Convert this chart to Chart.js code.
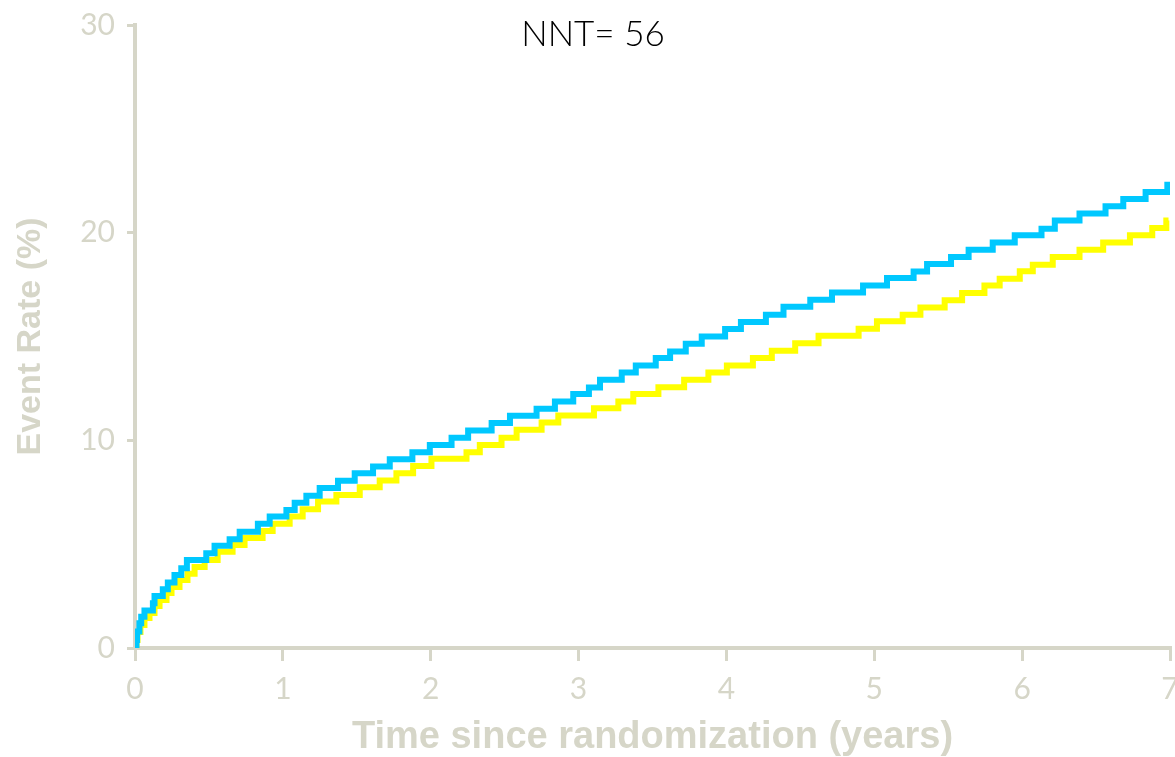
<!DOCTYPE html>
<html>
<head>
<meta charset="utf-8">
<script src="https://cdn.jsdelivr.net/npm/chart.js@4.4.1/dist/chart.umd.min.js"></script>
<style>
  html, body { margin: 0; padding: 0; background: #ffffff; }
  #wrap { width: 1175px; height: 757px; position: relative; }
</style>
</head>
<body>
<div id="wrap"><canvas id="c" width="1175" height="757"></canvas></div>
<script>
// ---- Data ----
const chartTitle = "NNT= 56";
const xAxisTitle = "Time since randomization (years)";
const yAxisTitle = "Event Rate (%)";
const xTicks = [0, 1, 2, 3, 4, 5, 6, 7];
const yTicks = [0, 10, 20, 30];

// Blue arm: step times (years) and cumulative event rate (%) after each step
const blueTimes = [0, 0.010, 0.014, 0.030, 0.042, 0.064, 0.121, 0.132, 0.188, 0.222, 0.267, 0.313, 0.351,
  0.482, 0.538, 0.640, 0.708, 0.831, 0.911, 1.024, 1.080, 1.159, 1.249, 1.373, 1.486, 1.610, 1.723,
  1.876, 1.994, 2.141, 2.253, 2.412, 2.536, 2.716, 2.840, 2.964, 3.070, 3.145, 3.292, 3.387, 3.522,
  3.619, 3.725, 3.833, 3.991, 4.098, 4.267, 4.386, 4.567, 4.714, 4.924, 5.086, 5.266, 5.357, 5.519,
  5.638, 5.801, 5.950, 6.131, 6.221, 6.388, 6.564, 6.684, 6.835, 6.982, 7.0];
const blueRates = [0, 0.39, 0.79, 1.19, 1.51, 1.80, 2.15, 2.51, 2.83, 3.15, 3.52, 3.84, 4.24,
  4.56, 4.92, 5.24, 5.60, 5.98, 6.33, 6.65, 7.00, 7.33, 7.70, 8.05, 8.42, 8.74, 9.09,
  9.43, 9.78, 10.12, 10.47, 10.83, 11.18, 11.52, 11.87, 12.23, 12.54, 12.92, 13.27, 13.60, 13.96,
  14.28, 14.65, 15.00, 15.36, 15.70, 16.05, 16.43, 16.77, 17.12, 17.46, 17.82, 18.13, 18.49, 18.83,
  19.18, 19.53, 19.87, 20.19, 20.58, 20.92, 21.27, 21.62, 21.96, 22.31, 22.31];

// Yellow arm
const yellowTimes = [0, 0.010, 0.017, 0.037, 0.064, 0.098, 0.132, 0.166, 0.213, 0.247, 0.301, 0.355,
  0.403, 0.471, 0.559, 0.660, 0.741, 0.863, 0.931, 1.046, 1.134, 1.238, 1.362, 1.520, 1.655, 1.768,
  1.881, 2.005, 2.242, 2.332, 2.479, 2.581, 2.750, 2.863, 3.104, 3.269, 3.370, 3.540, 3.714, 3.878,
  4.003, 4.179, 4.307, 4.465, 4.623, 4.894, 5.018, 5.192, 5.312, 5.476, 5.594, 5.745, 5.848, 5.984,
  6.072, 6.207, 6.388, 6.548, 6.729, 6.880, 6.975, 6.99];
const yellowRates = [0, 0.39, 0.77, 1.11, 1.45, 1.69, 2.02, 2.31, 2.65, 2.94, 3.28, 3.57,
  3.90, 4.24, 4.63, 4.96, 5.30, 5.64, 5.98, 6.33, 6.68, 7.05, 7.37, 7.74, 8.06, 8.42,
  8.77, 9.11, 9.43, 9.78, 10.13, 10.51, 10.86, 11.20, 11.55, 11.87, 12.23, 12.56, 12.92, 13.27,
  13.60, 13.96, 14.31, 14.68, 15.04, 15.37, 15.73, 16.05, 16.40, 16.74, 17.09, 17.45, 17.78, 18.14,
  18.46, 18.83, 19.18, 19.53, 19.87, 20.23, 20.58, 20.58];

// ---- Build chart ----
const toPoints = (ts, vs) => ts.map((t, i) => ({ x: t, y: vs[i] }));
const axisColor = '#d6d6c8';
const tickFont = { family: "'Lato', 'Noto Sans', sans-serif", size: 30, weight: '400' };
const xTitleFont = { family: "'Liberation Sans', Arial, sans-serif", size: 38, weight: 'bold', lineHeight: 1.0 };
const yTitleFont = { family: "'Liberation Sans', Arial, sans-serif", size: 34, weight: 'bold', lineHeight: 1.0 };

const titlePlugin = {
  id: 'nntTitle',
  afterDraw(chart) {
    const ctx = chart.ctx;
    ctx.save();
    ctx.font = "300 35px 'Lato', 'Noto Sans', sans-serif";
    ctx.fillStyle = '#000000';
    ctx.textAlign = 'center';
    ctx.textBaseline = 'middle';
    ctx.fillText(chartTitle, 593, 35);
    ctx.restore();
  }
};

new Chart(document.getElementById('c'), {
  type: 'line',
  data: {
    datasets: [
      {
        label: 'Yellow',
        data: toPoints(yellowTimes, yellowRates),
        borderColor: '#ffff00',
        borderWidth: 6,
        stepped: 'before',
        pointRadius: 0,
        fill: false,
        borderJoinStyle: 'miter',
        borderCapStyle: 'butt',
        order: 2
      },
      {
        label: 'Blue',
        data: toPoints(blueTimes, blueRates),
        borderColor: '#00c8ff',
        borderWidth: 6,
        stepped: 'before',
        pointRadius: 0,
        fill: false,
        borderJoinStyle: 'miter',
        borderCapStyle: 'butt',
        order: 1
      }
    ]
  },
  options: {
    responsive: false,
    animation: false,
    devicePixelRatio: 1,
    layout: { padding: { top: 25, right: 5, left: 0, bottom: 0 } },
    plugins: {
      legend: { display: false },
      tooltip: { enabled: false },
      title: { display: false }
    },
    scales: {
      x: {
        type: 'linear',
        min: 0,
        max: 7,
        afterBuildTicks: (s) => { s.ticks = xTicks.map(v => ({ value: v })); },
        afterFit: (s) => { s.height = 109; s.paddingLeft = 0; s.paddingRight = 0; },
        border: { display: true, color: axisColor, width: 4 },
        grid: { display: true, drawOnChartArea: false, drawTicks: true, tickLength: 13, color: axisColor, lineWidth: 3 },
        ticks: { color: axisColor, font: tickFont, padding: 10, maxRotation: 0, autoSkip: false },
        title: { display: true, text: xAxisTitle, color: axisColor, font: xTitleFont, padding: { top: 0, bottom: 0 } }
      },
      y: {
        type: 'linear',
        min: 0,
        max: 30,
        afterBuildTicks: (s) => { s.ticks = yTicks.map(v => ({ value: v })); },
        afterFit: (s) => { s.width = 135; s.paddingTop = 0; s.paddingBottom = 0; },
        border: { display: true, color: axisColor, width: 4 },
        grid: { display: true, drawOnChartArea: false, drawTicks: true, tickLength: 8, color: axisColor, lineWidth: 3 },
        ticks: { color: axisColor, font: tickFont, padding: 12, autoSkip: false },
        title: { display: true, text: yAxisTitle, color: axisColor, font: yTitleFont, padding: { top: 14, bottom: 0 } }
      }
    }
  },
  plugins: [titlePlugin]
});
</script>
</body>
</html>
